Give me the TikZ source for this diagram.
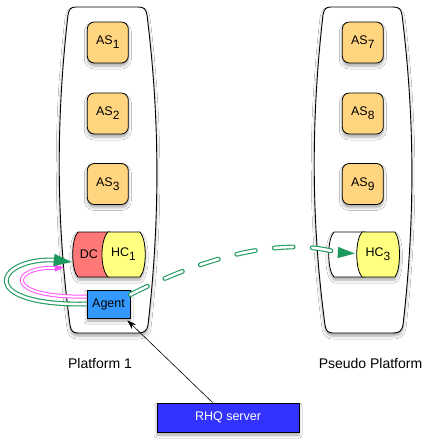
\documentclass[tikz,border=0pt]{standalone}
\usepackage{fontspec}
\setmainfont{Liberation Sans}
\usetikzlibrary{arrows.meta,calc,shadows.blur}
\definecolor{asfill}{HTML}{FFD580}
\definecolor{dcred}{HTML}{FF7878}
\definecolor{hcyel}{HTML}{FFFF80}
\definecolor{agblue}{HTML}{3399FF}
\definecolor{rhqblue}{HTML}{3333FF}
\definecolor{ggreen}{HTML}{1F9A5F}
\definecolor{pmag}{HTML}{FF55FF}
\newcommand\lowsub[1]{\raisebox{-0.32em}{\fontsize{12}{13}\selectfont #1}}
\begin{document}
\begin{tikzpicture}[x=1pt,y=-1pt,
  shd/.style={blur shadow={shadow xshift=0pt,shadow yshift=-3pt,shadow blur radius=3pt,shadow opacity=35}},
  boxfont/.style={font=\fontsize{12.5}{14}\selectfont},
  asbox/.style={draw=black,line width=0.8pt,fill=asfill,rounded corners=7pt,minimum width=41pt,minimum height=41pt,inner sep=0pt,boxfont,shd},
  cyl/.style={draw=black,line width=0.8pt},
  txt/.style={inner sep=0pt,boxfont},
  lbl/.style={inner sep=0pt,font=\fontsize{14}{16}\selectfont},
  platform/.style={draw=black,line width=0.9pt,fill=white,shd},
  gdouble/.style={draw=ggreen,line width=1.1pt,double=white,double distance=2.6pt},
  pdouble/.style={draw=pmag,line width=1pt,double=white,double distance=2pt},
  dashedgreen/.style={dash pattern=on 19pt off 19pt,line cap=round}
]
\fill[white] (0,0) rectangle (429,447);
\useasboundingbox (0,0) rectangle (429,447);

% platforms
\foreach \dx in {0,255} {
\begin{scope}[shift={(\dx,0)}]
\draw[platform] (76,7) -- (138,7) .. controls (144,7) and (146,9) .. (147,15)
  .. controls (160,120) and (160,220) .. (148,325)
  .. controls (147,331) and (144,333) .. (138,333) -- (78,333)
  .. controls (73,333) and (71,331) .. (70,325)
  .. controls (56,220) and (56,120) .. (68,15)
  .. controls (69,9) and (71,7) .. (76,7) -- cycle;
\end{scope}
}

% application servers
\node[asbox] (as1) at (107.8,42.5) {AS\lowsub{1}};
\node[asbox] (as2) at (107.8,113.5) {AS\lowsub{2}};
\node[asbox] (as3) at (107.8,184) {AS\lowsub{3}};
\node[asbox] (as7) at (362.8,42.5) {AS\lowsub{7}};
\node[asbox] (as8) at (362.8,113.5) {AS\lowsub{8}};
\node[asbox] (as9) at (362.8,184) {AS\lowsub{9}};

% DC / HC1
\path[fill=white,shd] (78,232) -- (140,232) .. controls (147,240) and (147,269) .. (140,277) -- (78,277) .. controls (71,270) and (71,239) .. (78,232) -- cycle;
\draw[cyl,fill=dcred] (78,232) -- (110,232) -- (110,277) -- (78,277) .. controls (71,270) and (71,239) .. (78,232) -- cycle;
\draw[cyl,fill=hcyel] (108,232) -- (140,232) .. controls (147,240) and (147,269) .. (140,277) -- (108,277) .. controls (100,269) and (100,240) .. (108,232) -- cycle;
\node[txt,minimum width=34pt,minimum height=45pt] (dc) at (89,254.5) {DC};
\node[txt,minimum width=43pt,minimum height=45pt] (hc1) at (123.5,254.5) {HC\lowsub{1}};

% HC3
\path[fill=white,shd] (334,232) -- (395,232) .. controls (401,240) and (401,269) .. (395,277) -- (334,277) .. controls (327,270) and (327,239) .. (334,232) -- cycle;
\draw[cyl,fill=white] (334,232) -- (365,232) -- (365,277) -- (334,277) .. controls (327,270) and (327,239) .. (334,232) -- cycle;
\draw[cyl,fill=hcyel] (362,232) -- (395,232) .. controls (401,240) and (401,269) .. (395,277) -- (362,277) .. controls (355,269) and (355,240) .. (362,232) -- cycle;
\node[txt,minimum width=44pt,minimum height=45pt] (hc3) at (378,254.5) {HC\lowsub{3}};

% agent
\node[draw=black,line width=0.8pt,fill=agblue,minimum width=43pt,minimum height=28pt,inner sep=0pt,boxfont,shd] (agent) at (108.5,304) {Agent};

% RHQ server
\node[draw=black,line width=0.8pt,fill=rhqblue,text=white,minimum width=142pt,minimum height=29pt,inner sep=0pt,boxfont,shd] (rhq) at (228,417.5) {RHQ server};

% labels
\node[lbl] (p1) at (100,363) {Platform 1};
\node[lbl] (pp) at (370.5,363) {Pseudo Platform};

% magenta loop
\coordinate (mA) at ($(dc.west)+(-17,13.5)$);
\coordinate (mT) at ($(dc.west)+(-8,13)$);
\draw[pdouble] ($(agent.north west)+(0,7)$) .. controls (0,298) and (12,266) .. (mA);
\draw[pmag,line width=1pt,-{Triangle[length=9pt,width=7pt]}] (mA) -- (mT);

% green loop
\coordinate (gA) at ($(dc.west)+(-18,5.5)$);
\coordinate (gT) at ($(dc.west)+(0,7.5)$);
\draw[gdouble] (agent.west) .. controls (-25,306) and (-5,258) .. (gA);
\draw[ggreen,line width=1pt,-{Triangle[length=18pt,width=12pt]}] (gA) -- (gT);

% green dashed
\coordinate (dS) at ($(agent.north east)+(0,5)$);
\coordinate (dA) at ($(hc3.west)+(-18,-2)$);
\coordinate (dT) at ($(hc3.west)+(-1,-1)$);
\draw[gdouble,dashedgreen] (dS) .. controls (195,262) and (275,235) .. (dA);
\draw[ggreen,line width=1pt,-{Triangle[length=17pt,width=11pt]}] (dA) -- (dT);

% RHQ -> agent
\draw[black,line width=0.6pt,-{Stealth[length=9pt,width=6pt]}] ($(rhq.north west)+(56,0)$) -- ($(agent.south east)+(-3,2)$);
\end{tikzpicture}
\end{document}
